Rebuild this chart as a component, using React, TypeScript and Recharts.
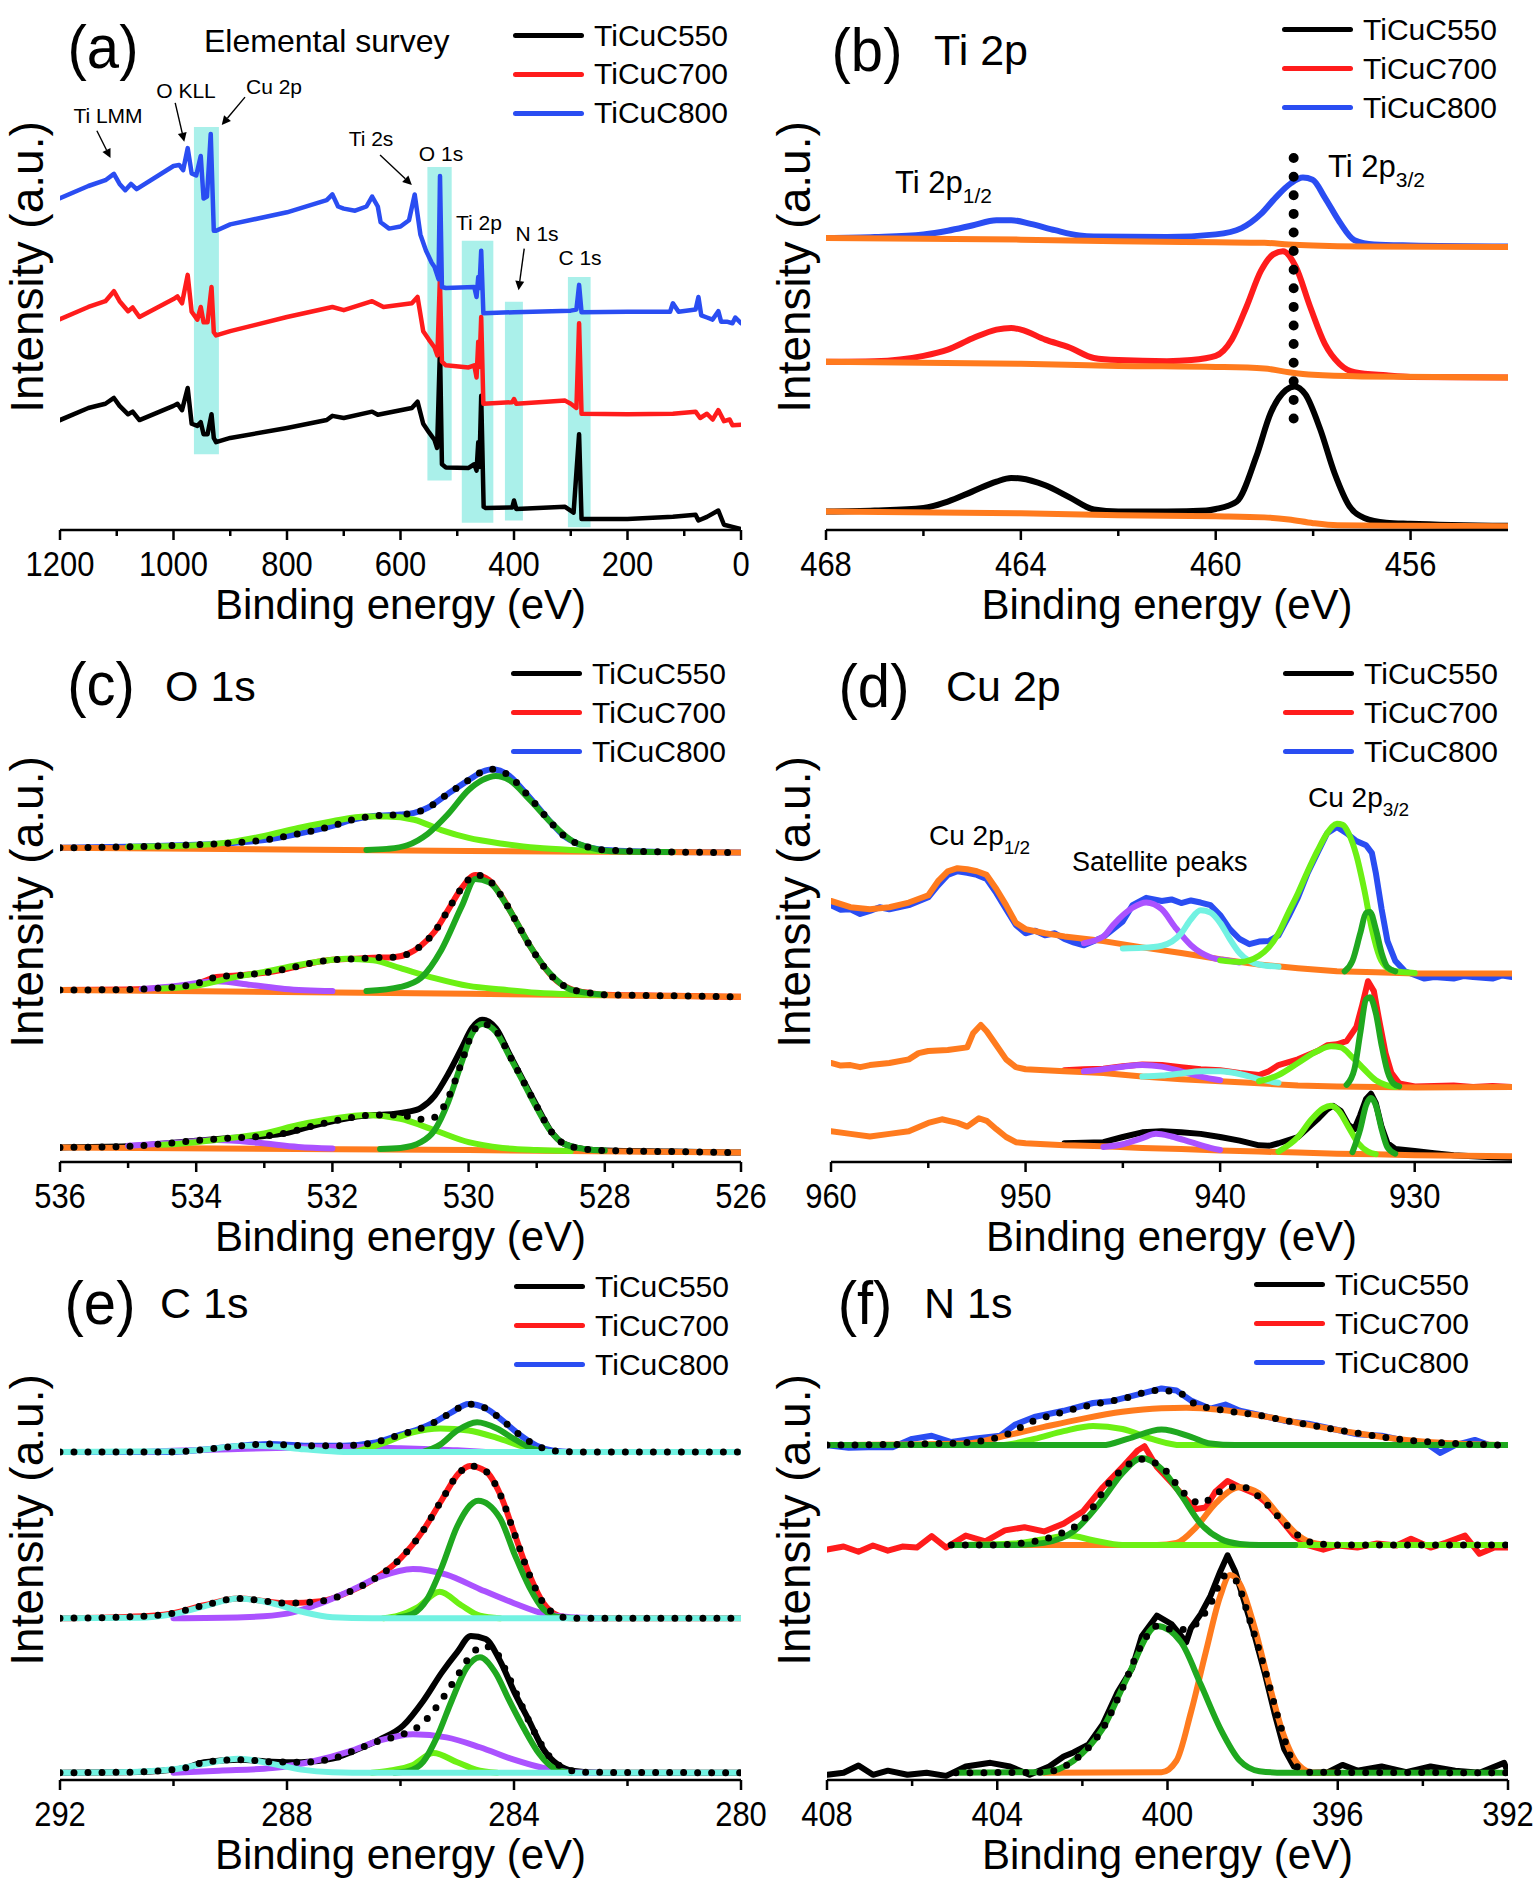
import React from 'react';
import { LineChart, Line, XAxis, YAxis, ReferenceArea, ReferenceLine, Legend } from 'recharts';

type Pt = [number, number];
type Box = { L: number; T: number; R: number; B: number };

// sample names + colours shared by all six legends
const samples = ['TiCuC550', 'TiCuC700', 'TiCuC800'];
const sampleColors = ['#000000', '#ff1c1c', '#2a4df2'];

const ORANGE = '#ff7b1e';
const DKGREEN = '#1fa81f';
const LTGREEN = '#6cf014';
const PURPLE = '#ab52ff';
const CYAN = '#72f2e2';
const BOXFILL = '#aaf0ea';
const FONT = '"Liberation Sans", Arial, Helvetica, sans-serif';

// ---------- (a) survey ----------
const surveyTicks = [1200, 1100, 1000, 900, 800, 700, 600, 500, 400, 300, 200, 100, 0];
const surveyMajor = [1200, 1000, 800, 600, 400, 200, 0];
const a550: Pt[] = [[1200,20.9],[1150,23.2],[1120,24],[1105,25.1],[1095,23.6],[1080,22],[1072,22.5],[1060,20.9],[1000,23.6],[993,24],[985,22.8],[975,27],[968,20.2],[958,19.8],[952,20.5],[947,18.2],[940,18.2],[933,22],[929,17.5],[925,16.7],[900,17.5],[800,19.4],[730,20.9],[720,21.7],[700,21.3],[650,22.5],[640,21.9],[580,23.2],[570,24.4],[560,20.2],[550,18.6],[540,17.1],[535.5,15.6],[530.4,34.7],[527,12.5],[520,11.9],[480,11.8],[470,12.5],[466,11.3],[463,16.7],[461,12],[457.8,25.5],[453.5,4.4],[450,4.2],[403,4.3],[400,5.6],[396,4],[310,4.4],[295,3.3],[285.3,18.2],[281,2.1],[200,2.1],[120,2.5],[80,2.9],[75,1.8],[60,2.5],[40,3.7],[30,1],[15,0.6],[0,0.2]];
const a700: Pt[] = [[1200,40.1],[1150,42.4],[1120,43.5],[1105,45.4],[1095,43.5],[1080,41.6],[1072,42.3],[1060,40.5],[1000,43.9],[993,44.4],[985,43.1],[975,48.5],[968,41.5],[958,40],[952,42.4],[947,39.5],[940,39.5],[933,46.2],[929,37.6],[925,37],[900,37.8],[800,40.5],[720,42.4],[700,41.8],[650,43.5],[630,42.4],[580,43.1],[570,44.3],[560,37.8],[550,36.2],[540,34.7],[535,33.2],[530.6,47.7],[527,32],[520,31.3],[480,30.9],[470,31.3],[466,29],[463,35.8],[461,31],[457.8,40.5],[454,24],[403,24.3],[400,24.9],[396,24],[310,24.6],[300,24],[290,23.2],[285.3,39.3],[281,22.1],[200,22],[120,22.1],[80,22.5],[72,21.3],[60,22.1],[50,21],[40,22.8],[30,20.7],[20,21],[15,19.9],[0,20]];
const a800: Pt[] = [[1200,63.1],[1150,65.4],[1120,66.5],[1105,67.7],[1095,65.8],[1085,64.6],[1075,65.8],[1065,64.8],[1000,69.2],[990,69.4],[983,68.4],[975,72.6],[968,67.8],[960,67.4],[952,71.1],[947,63],[941,63.4],[934.4,75.3],[929,56.9],[925,56.9],[900,58.1],[800,60.4],[730,62.7],[720,63.8],[710,61.5],[700,61.1],[680,60.7],[660,61.5],[650,63.4],[640,61.5],[635,58.5],[620,57.3],[600,57.7],[585,58.9],[575,63.8],[565,56.2],[555,53.1],[545,50.8],[540,50],[533,47.7],[530.4,67.3],[527,46.2],[520,46],[470,46.2],[466,44.3],[463,48.1],[461,46],[457.8,53.1],[454,41.2],[400,41.4],[300,41.7],[290,41.9],[285.3,46.6],[281,41.4],[200,41.5],[125,41.5],[120,43.1],[110,41.5],[80,41.9],[75,44.3],[70,40.8],[60,40.4],[50,40],[40,41.6],[35,39.6],[25,39.6],[15,39.3],[10,40.4],[0,39.3]];
// highlighted regions: [x1, x2, y1, y2]
const surveyBands: [number, number, number, number][] = [[964, 920, 14.4, 76.6], [552.6, 509.8, 9.4, 69], [492, 436.4, 1.4, 55], [416, 384.3, 1.8, 43.4], [305, 265, 0.5, 48.1]];
// arrows: from -> to
const surveyArrows: [number, number, number, number][] = [[1135, 75.9, 1111, 70.7], [997, 81.2, 981, 73.8], [874, 82.3, 915, 77], [636, 71.3, 580, 65.6], [382, 53.5, 392, 45.6]];

// ---------- (b) Ti 2p ----------
const tiTicks = [468, 466, 464, 462, 460, 458, 456];
const tiMajor = [468, 464, 460, 456];
const b550: Pt[] = [[468,3.5],[467,3.7],[466,4.2],[465.5,5.4],[465,7.3],[464.5,9.2],[464.2,9.9],[464,9.8],[463.5,8.5],[463,6.2],[462.5,3.9],[462,3.5],[461,3.5],[460.2,3.7],[460,4],[459.57,5.4],[459.17,13.9],[458.87,22.3],[458.56,26.6],[458.38,27.3],[458.16,25.8],[457.86,19.3],[457.56,10.8],[457.26,4.6],[456.95,2.3],[456.5,1.4],[456,1.2],[454,0.8]];
const b550bg: Pt[] = [[468,3.5],[464,3.2],[462,2.8],[460,2.6],[459,2.4],[458.5,2],[458,1.3],[457.5,0.9],[456,0.8],[454,0.7]];
const b700: Pt[] = [[468,32],[467,32.1],[466,33.1],[465.5,34.3],[465,36.4],[464.5,38.1],[464.2,38.4],[464,38.1],[463.5,36.2],[463,34.7],[462.5,32.7],[462,32.3],[461,32.1],[460.5,32.3],[460,33.1],[459.67,36.2],[459.37,42.4],[459.07,49.3],[458.82,52.4],[458.62,53],[458.36,50.1],[458.06,42.4],[457.76,35.4],[457.46,31.6],[457.15,30],[456.5,29.4],[456,29.1],[454,29]];
const b700bg: Pt[] = [[468,32],[464,31.6],[462,31.2],[460,31],[459,30.7],[458.5,30],[458,29.5],[457,29.2],[454,29]];
const b800: Pt[] = [[468,55.5],[467,55.7],[466,56.2],[465.5,56.9],[465,57.9],[464.5,58.9],[464.2,58.9],[463.8,58.2],[463.3,57],[462.8,56],[462.5,55.8],[461,55.7],[460,56.2],[459.47,57.4],[459.07,60.1],[458.77,63.2],[458.46,65.9],[458.21,67],[458.01,66.6],[457.76,63.2],[457.46,58.6],[457.15,55.1],[456.75,54.3],[456,54.1],[454,53.9]];
const b800bg: Pt[] = [[468,55.5],[464,55.2],[462,54.9],[460,54.7],[459,54.6],[458.5,54.3],[458,54.1],[457,53.9],[454,53.8]];

// ---------- (c) O 1s ----------
const oTicks = [536, 535, 534, 533, 532, 531, 530, 529, 528, 527, 526];
const oMajor = [536, 534, 532, 530, 528, 526];
const c800: Pt[] = [[536,60.3],[535,60.5],[534,60.9],[533.5,61.2],[533,61.8],[532.5,63],[532,64.5],[531.7,65.7],[531.4,66.4],[531,66.7],[530.8,67],[530.6,68],[530.3,70.7],[530,73.3],[529.8,74.9],[529.65,75.4],[529.4,74.1],[529.2,71.4],[529,68.4],[528.8,65.3],[528.6,62.6],[528.4,61.1],[528.2,60.3],[528,59.9],[527,59.5],[526,59.4]];
const c800bg: Pt[] = [[536,60.3],[530,59.7],[526,59.4]];
const c800dg: Pt[] = [[531.5,59.9],[531.2,60.1],[530.9,60.8],[530.6,63],[530.3,66.8],[530,71.4],[529.8,73.3],[529.6,74.1],[529.4,73.3],[529.1,69.5],[528.8,65.3],[528.5,61.8],[528.2,60.3],[527.8,59.6],[527,59.5]];
const c800lg: Pt[] = [[535,60.5],[534,60.8],[533.5,61.4],[533,62.6],[532.5,64.1],[532,65.4],[531.5,66.3],[531.2,66.3],[530.8,65.7],[530.4,63.7],[530,62.2],[529.5,61.1],[529,60.3],[528.5,59.9],[528,59.7]];
const c700: Pt[] = [[536,33],[535,33.1],[534.5,33.4],[534,34.2],[533.7,35.5],[533.3,35.9],[533,36.3],[532.7,37],[532.3,38.2],[532,38.8],[531.7,39],[531.4,39.2],[531.1,39.3],[530.9,39.9],[530.7,41.5],[530.5,44.2],[530.3,48.4],[530.1,52.6],[529.9,55.1],[529.7,54.1],[529.5,50.7],[529.3,46.1],[529.1,41.5],[528.9,37.6],[528.7,34.7],[528.5,33.2],[528.2,32.4],[528,32.1],[527,31.9],[526,31.7]];
const c700bg: Pt[] = [[536,33],[530,32.3],[526,31.7]];
const c700dg: Pt[] = [[531.5,32.8],[531,33.6],[530.7,35.3],[530.4,40.7],[530.1,49.1],[529.9,54.3],[529.7,53.7],[529.4,48.4],[529.1,41.5],[528.8,36.1],[528.5,33.1],[528,32.1]];
const c700lg: Pt[] = [[534.5,33.3],[534,33.8],[533.5,35.3],[533,36.5],[532.5,37.8],[532,38.8],[531.8,39],[531.4,38.7],[531,37.2],[530.5,35.3],[530,33.8],[529.5,33.1],[529,32.5],[528.5,32.2],[528,32.1]];
const c700pu: Pt[] = [[534.8,33.2],[534.3,33.8],[533.7,34.7],[533.2,34],[532.7,33.2],[532,32.8]];
const c550: Pt[] = [[536,2.8],[535,3],[534.5,3.5],[534,4.1],[533.5,4.6],[533,5],[532.7,5.5],[532.3,6.9],[532,7.8],[531.7,8.6],[531.4,9],[531.1,9.2],[530.9,9.6],[530.7,10.4],[530.5,12.7],[530.3,16.9],[530.1,21.9],[529.95,25.7],[529.8,27.3],[529.6,25.7],[529.4,20.7],[529.2,15.7],[529,10.8],[528.8,6.1],[528.6,3.5],[528.3,2.5],[528,2.2],[527,2],[526,1.8]];
const c550fit: Pt[] = [[536,2.8],[535,3],[534.5,3.5],[534,4.1],[533.5,4.6],[533,5],[532.7,5.5],[532.3,6.9],[532,7.8],[531.7,8.6],[531.4,9],[531.1,9],[530.9,8.8],[530.7,8.2],[530.5,8.6],[530.3,12.3],[530.1,19.2],[529.95,24.6],[529.8,26.5],[529.6,25.2],[529.4,20.5],[529.2,15.6],[529,10.7],[528.8,6.1],[528.6,3.5],[528.3,2.5],[528,2.2],[527,2],[526,1.8]];
const c550bg: Pt[] = [[536,2.8],[530,2.3],[526,1.8]];
const c550dg: Pt[] = [[531.3,2.5],[531,2.7],[530.7,3.8],[530.5,6.1],[530.3,11.5],[530.1,19.2],[529.95,24.6],[529.8,26.5],[529.6,25],[529.4,20.3],[529.2,15.4],[529,10.4],[528.8,6],[528.6,3.5],[528.3,2.5],[528,2.2]];
const c550lg: Pt[] = [[534.5,3.3],[534,3.8],[533.5,4.6],[533,5.5],[532.5,7.1],[532,8.3],[531.5,9],[531,8.3],[530.5,6.1],[530,3.8],[529.5,2.7],[529,2.3],[528.5,2.1]];
const c550pu: Pt[] = [[535,3.1],[534.3,3.7],[533.7,4.2],[533.1,3.7],[532.5,2.9],[532,2.6]];

// ---------- (d) Cu 2p ----------
const cuTicks = [960, 955, 950, 945, 940, 935, 930];
const cuMajor = [960, 950, 940, 930];
const d800: Pt[] = [[960,49.3],[959.5,48.4],[959,48.5],[958.5,47.6],[958,48.2],[957.5,48.9],[957,48.5],[956,49.3],[955,50.8],[954.5,53.1],[954,55.1],[953.5,55.8],[953,55.5],[952.5,55.1],[952,54.3],[951.5,51.6],[951,48.5],[950.5,45.5],[950,43.9],[949.5,44.4],[949,43.5],[948.5,43.9],[948,42.8],[947.5,42.1],[947,41.6],[946,43.2],[945,46.2],[944.5,49.3],[943.8,50.7],[943,50.1],[942.5,50.4],[942,49.7],[941.5,50.2],[941,49.8],[940.5,49.3],[940,47.4],[939.5,44.7],[939,42.8],[938.5,41.8],[938,42.3],[937.5,42.4],[937,43.5],[936.5,47],[936,50.8],[935.5,55.5],[935,59.3],[934.5,63.1],[934,64.3],[933.5,63.1],[933,61.6],[932.5,60.8],[932.2,59.3],[932,55.5],[931.7,48.5],[931.4,42.4],[931,38.6],[930.5,36.6],[930,35.9],[929.5,35.2],[929,35.5],[928,35.2],[927.5,35.7],[927,35.5],[926,35.2],[925.5,35.8],[925,35.5]];
const d800bg: Pt[] = [[960,50.1],[959,48.9],[958,48.5],[957,48.9],[956,49.8],[955,51.2],[954.5,53.9],[954,55.8],[953.5,56.4],[953,56.2],[952.5,55.8],[952,55.1],[951.5,52.4],[951,49.3],[950.5,45.9],[950,44.7],[949,43.9],[948,43.3],[946,42.4],[944,41.2],[942,40.1],[940,38.9],[938,37.9],[936,37.2],[934,36.6],[932,36.4],[930,36.2],[925,36.2]];
const d800pu: Pt[] = [[947,42],[946,43.3],[945.5,45.5],[944.5,48.8],[943.8,49.8],[943,48.5],[942.3,45],[941.5,41.6],[940.5,39.3],[939.5,38.6],[939,38.3]];
const d800cy: Pt[] = [[945,41],[944,41.1],[943,41.5],[942,43.9],[941.5,46.6],[941,48.3],[940.5,47.9],[940,45.9],[939.5,42.8],[939,40.1],[938,37.9],[937,37.5]];
const d800lg: Pt[] = [[940,38.7],[939,38.4],[938,39.6],[937.5,41.2],[937,43.9],[936.5,47.8],[936,51.6],[935.5,55.8],[935,59.7],[934.5,63.1],[934,64.9],[933.7,64.7],[933.4,63.1],[933,58.9],[932.6,52.4],[932.2,44.7],[931.8,39.3],[931.4,37.2],[931,36.6],[930,36.3]];
const d800dg: Pt[] = [[933.6,36.6],[933.2,38.6],[932.8,43.9],[932.5,47.8],[932.3,48],[932,44.7],[931.7,40.1],[931.4,37.4],[931,36.6]];
const d700: Pt[] = [[948,17.6],[947,17.8],[946,17.9],[945,18.4],[944,18.7],[943,18.6],[942,18.2],[941,17.8],[940,17.6],[939,17.1],[938,16.7],[937.5,17.4],[937,18.6],[936,19.7],[935,21.3],[934.5,22.4],[934,22.6],[933.5,23.2],[933,25.9],[932.7,30.1],[932.4,34.7],[932.1,32.8],[931.8,26.7],[931.5,20.9],[931.2,17.1],[930.8,15.1],[930,14.5],[929,14.6],[928,14.7],[927,14.4],[926,14.6],[925,14.4]];
const d700bg: Pt[] = [[960,19],[959.5,18.5],[959,18.6],[958.5,18.2],[958,18.6],[957,19],[956,19.7],[955.5,20.9],[955,21.3],[954,21.5],[953,22],[952.7,24.7],[952.3,26.3],[952,25.1],[951.5,22.4],[951,19.7],[950.5,18.2],[950,17.8],[949,17.6],[948,17.4],[946,17.1],[944,16.4],[942,15.9],[940,15.5],[938,15.1],[936,14.7],[934,14.5],[932,14.4],[930,14.3],[925,14.4]];
const d700pu: Pt[] = [[947,17.4],[946,17.8],[945,18.3],[944,18.6],[943,18.3],[942,17.4],[941,16.4],[940,15.7]];
const d700cy: Pt[] = [[944,16.4],[943,16.6],[942,17],[941,17.4],[940,17.4],[939,16.9],[938,15.9],[937,15.2]];
const d700lg: Pt[] = [[938,15.5],[937,16.7],[936,19],[935,21.3],[934.3,22.2],[933.8,22],[933.2,20.1],[932.6,17.8],[932,15.7],[931.5,14.8],[931,14.4]];
const d700dg: Pt[] = [[933.5,14.8],[933.1,17.8],[932.8,24.7],[932.5,31.2],[932.3,31.6],[932,28.6],[931.7,22.4],[931.4,17.4],[931.1,15.1],[930.8,14.5]];
const d550: Pt[] = [[948,3.6],[947,3.7],[946,3.8],[945,4.8],[944,5.7],[943,5.9],[942,5.7],[941,5.4],[940,4.8],[939,4.1],[938,3.2],[937.5,3.1],[937,3.6],[936,4.8],[935,8.2],[934.5,10.1],[934.2,10.8],[933.8,9.8],[933.4,7.1],[933.1,6.3],[932.8,9],[932.5,12.1],[932.25,13.1],[932,11.3],[931.7,6.7],[931.4,3.6],[931,2.5],[930,2.1],[929,1.7],[928,1.3],[927,1.1],[926,0.9],[925,0.8]];
const d550bg: Pt[] = [[960,5.9],[959,5.4],[958,4.9],[957,5.4],[956,5.9],[955,7.5],[954.3,8.2],[953.5,7.5],[953,6.8],[952.4,8.4],[952,7.9],[951.5,6.3],[951,4.8],[950.5,3.8],[950,3.6],[948,3.2],[946,3],[944,2.7],[942,2.5],[940,2.2],[938,2],[936,1.8],[934,1.6],[932,1.5],[930,1.3],[925,1.1]];
const d550pu: Pt[] = [[946,2.9],[945,3.4],[944,4.6],[943.3,5.4],[942.5,4.9],[941.5,3.8],[940.5,2.7],[940,2.3]];
const d550lg: Pt[] = [[937,2],[936,4.8],[935.3,8.2],[934.7,10.3],[934.3,10.8],[933.9,9.8],[933.4,6.7],[932.9,3.6],[932.4,2],[932,1.5]];
const d550dg: Pt[] = [[933.2,1.9],[932.8,6.3],[932.5,10.9],[932.25,12.3],[932,10.9],[931.7,6.3],[931.4,2.8],[931,1.6]];

// ---------- (e) C 1s ----------
const cTicks = [292, 290, 288, 286, 284, 282, 280];
const cMajor = [292, 288, 284, 280];
const e800: Pt[] = [[292,63.1],[290,63.1],[289.5,63.5],[288.8,64.3],[288.3,64.6],[287.7,64.3],[287,64.3],[286.5,64.8],[286,66.4],[285.7,67.4],[285.4,68.8],[285.1,70.7],[284.8,72.3],[284.5,71.5],[284.2,69.1],[283.9,66.4],[283.6,64.3],[283.3,63.3],[283,63.1],[280,63.1]];
const e800dg: Pt[] = [[285.6,63.1],[285.3,64.5],[285,67.2],[284.65,68.8],[284.3,67.6],[284,65.6],[283.7,63.8],[283.4,63.1]];
const e800lg: Pt[] = [[286.8,63.1],[286.3,64.8],[285.8,66.8],[285.3,67.6],[284.8,67.2],[284.3,65.8],[283.8,64],[283.4,63.1]];
const e800pu: Pt[] = [[290.5,63.1],[290,63.3],[289,63.6],[288,63.9],[287,64.1],[286,63.8],[285,63.4],[284.5,63.1]];
const e800cy: Pt[] = [[292,63.1],[290,63.2],[289.3,63.7],[288.8,64.3],[288.3,64.2],[287.7,63.6],[287,63.1],[280,63.1]];
const e700: Pt[] = [[292,31.1],[290.74,31.4],[290.05,32],[289.46,33.6],[288.86,34.9],[288,34],[287.4,34.4],[286.8,36.7],[286.4,39.1],[286,42.6],[285.6,48],[285.27,53.9],[284.97,59],[284.78,60.4],[284.5,59.4],[284.25,55.1],[283.99,47.3],[283.73,39.5],[283.48,34],[283.22,31.6],[282.97,31.1],[280,31.1]];
const e700dg: Pt[] = [[286.04,31.3],[285.78,32],[285.53,34.8],[285.27,41],[285,48.8],[284.63,53.7],[284.25,50.4],[283.99,43.4],[283.73,37.1],[283.48,32.8],[283.2,31.3],[282.9,31.1]];
const e700lg: Pt[] = [[286.3,31.1],[286.04,31.6],[285.7,33.2],[285.31,36.2],[284.93,33.6],[284.6,31.6],[284.25,31.1]];
const e700pu: Pt[] = [[290,31.1],[288.77,31.3],[288,32],[287.5,33.6],[286.9,36.3],[286.36,39.1],[285.78,40.6],[285.19,39.5],[284.6,36.7],[284,34],[283.48,32],[283,31.3],[282.5,31.1]];
const e700cy: Pt[] = [[292,31.1],[290.6,31.2],[290.05,31.8],[289.46,33.4],[288.86,34.9],[288.26,34],[287.75,32.4],[287.2,31.3],[286.5,31.1],[280,31.1]];
const e550: Pt[] = [[292,1.4],[290.8,1.5],[290.2,1.8],[289.8,2.3],[289.46,3.4],[288.86,3.9],[288.26,3.5],[287.75,3.4],[287.2,4.1],[286.8,5.7],[286.36,7.8],[285.95,10.5],[285.6,15.2],[285.27,20.7],[285,24.6],[284.76,27.7],[284.5,27.1],[284.25,23],[283.99,16.8],[283.73,11.3],[283.48,5.9],[283.22,2.9],[282.97,1.8],[282.5,1.4],[280,1.4]];
const e550fit: Pt[] = [[292,1.4],[290.8,1.5],[290.2,1.8],[289.8,2.3],[289.46,3.4],[288.86,3.9],[288.26,3.5],[287.75,3.4],[287.2,4.1],[286.8,5.7],[286.36,7.6],[286,8.6],[285.6,11],[285.27,15.5],[285,20],[284.76,24],[284.55,25.8],[284.35,25],[284.1,20],[283.85,14],[283.6,8.4],[283.35,4.2],[283.1,2.2],[282.8,1.5],[280,1.4]];
const e550dg: Pt[] = [[286.1,1.4],[285.87,1.7],[285.6,3.5],[285.36,8.2],[285.1,15.2],[284.84,21.5],[284.6,23.6],[284.33,20.7],[284.08,15.2],[283.82,9.8],[283.56,5.1],[283.3,2.3],[283,1.4]];
const e550lg: Pt[] = [[286.5,1.4],[286.2,1.8],[285.78,2.9],[285.42,5.2],[285,3.4],[284.67,2],[284.3,1.4]];
const e550pu: Pt[] = [[290,1.4],[289.2,1.8],[288.26,2.3],[287.5,3.7],[286.9,5.5],[286.36,7.6],[285.78,8.8],[285.19,8.2],[284.6,6.3],[284,3.9],[283.48,2.3],[283,1.5],[282.5,1.4]];
const e550cy: Pt[] = [[292,1.4],[290.6,1.6],[290.05,2],[289.46,3.1],[288.86,4.1],[288.26,3.1],[287.75,2],[287.2,1.5],[286.5,1.4],[280,1.4]];

// ---------- (f) N 1s ----------
const nTicks = [408, 406, 404, 402, 400, 398, 396, 394, 392];
const nMajor = [408, 404, 400, 396, 392];
const f800: Pt[] = [[408,64.4],[407.49,63.9],[407.03,64],[406.46,64],[406,65.6],[405.54,66.2],[405.08,65],[404.51,65.7],[403.93,66.2],[403.59,68.3],[403.13,69.8],[402.44,71],[401.75,72.5],[401.29,72.9],[400.71,74.1],[400.14,75.3],[399.79,74.9],[399.45,73],[398.99,71.4],[398.64,72.2],[398.3,71],[397.84,70.2],[397.26,69.1],[396.69,68.5],[396.11,67.5],[395.54,66.5],[394.97,66.2],[394.39,65.2],[393.93,64.8],[393.59,62.9],[393.24,64.4],[392.78,65.4],[392.44,64.4],[392,64.4]];
const f800fit: Pt[] = [[408,64.4],[404.97,64.8],[403.93,66],[403.13,69.1],[402.44,70.8],[401.75,72.2],[401.06,73.3],[400.25,74.9],[399.79,74.7],[399.33,72.2],[398.76,71.2],[397.84,70.1],[396.69,68.3],[395.54,66.7],[394.39,65.4],[393.24,64.7],[392,64.4]];
const f800or: Pt[] = [[408,64.4],[404.74,64.7],[403.82,66.2],[402.9,67.9],[401.98,69.5],[401.06,70.8],[400.14,71.5],[399.56,71.6],[398.76,71.2],[397.84,70.1],[396.69,68.3],[395.54,66.7],[394.39,65.4],[393.24,64.7],[392,64.4]];
const f800lg: Pt[] = [[408,64.4],[403.93,64.4],[403.13,65.6],[402.44,67.1],[401.75,68.1],[401.06,67.5],[400.37,65.6],[399.68,64.4],[392,64.4]];
const f800dg: Pt[] = [[408,64.4],[401.52,64.4],[400.94,65.6],[400.14,67.4],[399.45,66],[398.99,64.7],[398.41,64.4],[392,64.4]];
const f700: Pt[] = [[408,44.3],[407.61,44.9],[407.26,43.9],[406.92,45.1],[406.57,44.1],[406.23,44.9],[405.89,44.7],[405.54,46.9],[405.2,44.7],[404.74,47],[404.28,45.9],[403.82,48],[403.36,48.6],[402.9,47.8],[402.44,49.3],[401.98,51.7],[401.52,56.3],[401.06,60.2],[400.71,63.3],[400.54,64.2],[400.25,60.2],[399.91,57.2],[399.56,54],[399.33,52.1],[399.1,52.4],[398.87,55.5],[398.59,57.5],[398.3,56.3],[397.95,55.1],[397.72,53.6],[397.38,50.5],[397.03,47],[396.69,45.1],[396.34,44.3],[396,45.1],[395.54,44.7],[395.08,45.5],[394.62,45.1],[394.28,46.4],[393.82,44.7],[393.47,45.6],[393.01,47],[392.67,43.5],[392.32,44.7],[392,44.7]];
const f700fit: Pt[] = [[405.08,45.2],[404.16,45.2],[403.36,45.6],[402.67,46.9],[401.98,50],[401.29,57.9],[400.6,61.7],[400.14,60.2],[399.56,54.8],[399.22,53.2],[398.76,55.5],[398.3,56.5],[397.84,54.4],[397.38,50.5],[396.92,47],[396.57,45.6],[396,45.2],[392,45.2]];
const f700dg: Pt[] = [[405.08,45.2],[403.5,45.2],[402.9,45.6],[402.21,47.8],[401.52,54],[401.06,59],[400.6,61.9],[400.14,59.8],[399.68,54.8],[399.22,49.3],[398.76,46.4],[398.3,45.4],[397.84,45.2],[397,45.2]];
const f700or: Pt[] = [[403.5,45.2],[400.25,45.2],[399.79,45.6],[399.33,48.6],[398.87,53.2],[398.3,56.3],[397.84,55.1],[397.38,50.9],[396.92,47],[396.57,45.6],[396.11,45.2]];
const f700lg: Pt[] = [[405.08,45.2],[403.59,45.5],[402.9,46.3],[402.32,47],[401.75,46.1],[401.06,45.2],[392,45.2]];
const f550: Pt[] = [[408,1],[407.61,1.4],[407.26,2.8],[406.92,1],[406.57,1.8],[406.11,1],[405.66,1.4],[405.2,0.8],[404.74,2.6],[404.16,3.3],[403.7,2.6],[403.24,1],[402.78,2.6],[402.44,4.5],[402.21,5.3],[401.86,6.8],[401.52,10.7],[401.17,16.9],[400.83,21.5],[400.6,27.7],[400.25,31.6],[399.91,30],[399.56,26.5],[399.45,29.2],[399.22,31.9],[398.99,35.4],[398.76,40.1],[398.59,43.2],[398.41,40.1],[398.18,33.9],[397.95,27.7],[397.72,20.7],[397.49,13],[397.26,6],[397.03,2.6],[396.69,1.4],[396.23,1.5],[395.89,2.9],[395.54,1.8],[394.97,2.6],[394.39,1.5],[393.82,2.6],[393.24,1.8],[392.67,1.4],[392.09,3.3],[392,1.4]];
const f550fit: Pt[] = [[404.97,1.4],[402.9,1.5],[402.21,3.7],[401.52,9.9],[401.06,17.6],[400.6,26.1],[400.25,29.6],[399.79,28.8],[399.33,30],[398.99,33.9],[398.64,39.3],[398.41,38.5],[398.07,30.8],[397.72,21.5],[397.38,11.4],[397.03,3.3],[396.69,1.5],[392,1.4]];
const f550dg: Pt[] = [[404.97,1.4],[402.9,1.5],[402.21,3.7],[401.52,9.9],[400.94,19.8],[400.25,29.6],[399.68,26.5],[399.22,18.4],[398.76,9.9],[398.3,3.7],[397.84,1.7],[397.26,1.4],[392,1.4]];
const f550or: Pt[] = [[402.9,1.4],[400.14,1.5],[399.79,3.7],[399.45,13],[399.1,24.6],[398.76,35.4],[398.53,39.4],[398.3,37.7],[397.95,29.2],[397.61,18.4],[397.26,8.4],[396.92,2.9],[396.57,1.4],[396,1.4]];

// ---------- layout ----------
const PAD = 4;
const PADX = 44;
const AXIS_H = 58;
const boxA: Box = { L: 60, T: 4, R: 741, B: 530 };
const boxB: Box = { L: 826, T: 4, R: 1508, B: 530 };
const boxC: Box = { L: 60, T: 641, R: 741, B: 1162 };
const boxD: Box = { L: 831, T: 641, R: 1512, B: 1162 };
const boxE: Box = { L: 60, T: 1260, R: 741, B: 1780 };
const boxF: Box = { L: 827, T: 1260, R: 1508, B: 1780 };

const rows = (pts: Pt[]) => pts.map(([x, y]) => ({ x, y }));

const XTick = (props: any) => {
  const { x, y, payload, major } = props;
  const isMajor = major.includes(payload.value);
  return (
    <g>
      <line x1={x} x2={x} y1={y} y2={y + (isMajor ? 10 : 6)} stroke="#000" strokeWidth={2.5} />
      {isMajor && (
        <text x={0} y={0} transform={`translate(${x},${y + 46}) scale(0.86,1)`} textAnchor="middle" fontSize={36} fontFamily={FONT} fill="#000">
          {payload.value}
        </text>
      )}
    </g>
  );
};

function frame(domain: [number, number], ticks: number[], major: number[]) {
  const stroke = { stroke: '#000', strokeWidth: 2.5 };
  return [
    <XAxis key="xb" xAxisId={0} type="number" dataKey="x" domain={domain} reversed allowDataOverflow ticks={ticks} interval={0} height={AXIS_H} tickSize={0} tickMargin={0} tickLine={false} axisLine={stroke} tick={(p: any) => <XTick {...p} major={major} />} />,
    <XAxis key="xt" xAxisId="top" orientation="top" type="number" dataKey="x" domain={domain} reversed allowDataOverflow height={0} tick={false} tickLine={false} axisLine={stroke} />,
    <YAxis key="yl" yAxisId={0} type="number" domain={[0, 100]} width={0} tick={false} tickLine={false} axisLine={stroke} allowDataOverflow />,
    <YAxis key="yr" yAxisId="r" orientation="right" type="number" domain={[0, 100]} width={0} tick={false} tickLine={false} axisLine={stroke} />,
  ];
}

type S = { id: string; pts: Pt[]; color: string; w?: number; dotted?: boolean; curve?: 'linear' | 'monotone' };

function lines(list: S[]) {
  return list.map((s) => (
    <Line
      key={s.id}
      data={rows(s.pts)}
      dataKey="y"
      type={s.curve ?? 'monotone'}
      stroke={s.dotted ? '#000' : s.color}
      strokeWidth={s.dotted ? 7 : s.w ?? 6}
      strokeDasharray={s.dotted ? '0 14' : undefined}
      strokeLinecap="round"
      strokeLinejoin="round"
      dot={false}
      activeDot={false}
      legendType="none"
      isAnimationActive={false}
    />
  ));
}

const SampleLegend = () => (
  <div style={{ fontFamily: FONT, fontSize: 30, color: '#000' }}>
    {samples.map((s, i) => (
      <div key={s} style={{ display: 'flex', alignItems: 'center', height: 38.8 }}>
        <span style={{ display: 'inline-block', width: 71, height: 5, borderRadius: 3, background: sampleColors[i], marginRight: 10 }} />
        <span style={{ lineHeight: 1 }}>{s}</span>
      </div>
    ))}
  </div>
);

const Arrow = (p: any) => {
  const { x1, y1, x2, y2 } = p;
  if ([x1, y1, x2, y2].some((v) => typeof v !== 'number')) return <g />;
  const a = Math.atan2(y2 - y1, x2 - x1);
  const h = 9, w = 4.5;
  const bx = x2 - h * Math.cos(a), by = y2 - h * Math.sin(a);
  const pts = `${x2},${y2} ${bx + w * Math.sin(a)},${by - w * Math.cos(a)} ${bx - w * Math.sin(a)},${by + w * Math.cos(a)}`;
  return (
    <g>
      <line x1={x1} y1={y1} x2={bx} y2={by} stroke="#000" strokeWidth={1.4} />
      <polygon points={pts} fill="#000" />
    </g>
  );
};

const Panel = ({ box, legendAt, children }: { box: Box; legendAt: [number, number]; children: any }) => {
  const w = box.R - box.L + 2 * PADX;
  const h = box.B - box.T + PAD + AXIS_H;
  const ox = box.L - PADX, oy = box.T - PAD;
  return (
    <div style={{ position: 'absolute', left: ox, top: oy, width: w, height: h }}>
      <LineChart width={w} height={h} margin={{ top: PAD, right: PADX, bottom: 0, left: PADX }}>
        {children}
        <Legend
          layout="vertical"
          align="center"
          verticalAlign="middle"
          content={() => <SampleLegend />}
          wrapperStyle={{ left: legendAt[0] - ox, top: legendAt[1] - 19.4 - oy, width: 'auto', right: 'auto', bottom: 'auto' }}
        />
      </LineChart>
    </div>
  );
};

const Txt = ({ x, y, size, children, center, sx = 1, sy = 1 }: any) => (
  <div
    style={{
      position: 'absolute',
      left: x,
      top: y,
      fontSize: size,
      lineHeight: 1,
      whiteSpace: 'nowrap',
      transformOrigin: center ? '50% 50%' : '0 50%',
      transform: `translate(${center ? '-50%' : '0'}, -50%) scale(${sx}, ${sy})`,
    }}
  >
    {children}
  </div>
);

const Sub = ({ main, sub, size, subSize }: any) => (
  <span>
    {main}
    <span style={{ fontSize: subSize, position: 'relative', top: size * 0.32 }}>{sub}</span>
  </span>
);

const XTitle = ({ box }: { box: Box }) => (
  <Txt x={(box.L + box.R) / 2} y={box.B + 75} size={42} center>Binding energy (eV)</Txt>
);
const YTitle = ({ box, cx }: { box: Box; cx: number }) => (
  <div
    style={{
      position: 'absolute',
      left: cx,
      top: (box.T + box.B) / 2,
      fontSize: 46,
      lineHeight: 1,
      whiteSpace: 'nowrap',
      transform: 'translate(-50%, -50%) rotate(-90deg)',
    }}
  >
    Intensity (a.u.)
  </div>
);

export default function App() {
  const bandEls = surveyBands.map(([x1, x2, y1, y2], i) => (
    <ReferenceArea key={`band${i}`} x1={x1} x2={x2} y1={y1} y2={y2} fill={BOXFILL} fillOpacity={1} stroke="none" zIndex={-10} ifOverflow="visible" />
  ));
  const arrowEls = surveyArrows.map(([xa, ya, xb, yb], i) => (
    <ReferenceLine key={`arr${i}`} segment={[{ x: xa, y: ya }, { x: xb, y: yb }]} stroke="#000" ifOverflow="visible" shape={(p: any) => <Arrow {...p} />} />
  ));

  return (
    <div style={{ position: 'absolute', left: 0, top: 0, width: 1536, height: 1883, background: '#fff', fontFamily: FONT, color: '#000', overflow: 'hidden' }}>
      {/* (a) */}
      <Panel box={boxA} legendAt={[513, 35.7]}>
        {bandEls}
        {lines([
          { id: 'a550', pts: a550, color: sampleColors[0], w: 4.5, curve: 'linear' },
          { id: 'a700', pts: a700, color: sampleColors[1], w: 4.5, curve: 'linear' },
          { id: 'a800', pts: a800, color: sampleColors[2], w: 4.5, curve: 'linear' },
        ])}
        {arrowEls}
        {frame([0, 1200], surveyTicks, surveyMajor)}
      </Panel>

      {/* (b) */}
      <Panel box={boxB} legendAt={[1282, 30]}>
        {lines([
          { id: 'b550', pts: b550, color: sampleColors[0] },
          { id: 'b550bg', pts: b550bg, color: ORANGE },
          { id: 'b700', pts: b700, color: sampleColors[1] },
          { id: 'b700bg', pts: b700bg, color: ORANGE },
          { id: 'b800', pts: b800, color: sampleColors[2] },
          { id: 'b800bg', pts: b800bg, color: ORANGE },
        ])}
        <ReferenceLine segment={[{ x: 458.4, y: 21.2 }, { x: 458.4, y: 70.9 }]} stroke="#000" strokeWidth={10} strokeDasharray="0 18.6" strokeLinecap="round" ifOverflow="visible" />
        {frame([454, 468], tiTicks, tiMajor)}
      </Panel>

      {/* (c) */}
      <Panel box={boxC} legendAt={[511, 674]}>
        {lines([
          { id: 'c800', pts: c800, color: sampleColors[2] },
          { id: 'c800bg', pts: c800bg, color: ORANGE },
          { id: 'c800lg', pts: c800lg, color: LTGREEN },
          { id: 'c800dg', pts: c800dg, color: DKGREEN },
          { id: 'c800fit', pts: c800, color: '#000', dotted: true },
          { id: 'c700', pts: c700, color: sampleColors[1] },
          { id: 'c700bg', pts: c700bg, color: ORANGE },
          { id: 'c700pu', pts: c700pu, color: PURPLE },
          { id: 'c700lg', pts: c700lg, color: LTGREEN },
          { id: 'c700dg', pts: c700dg, color: DKGREEN },
          { id: 'c700fit', pts: c700, color: '#000', dotted: true },
          { id: 'c550', pts: c550, color: sampleColors[0] },
          { id: 'c550bg', pts: c550bg, color: ORANGE },
          { id: 'c550pu', pts: c550pu, color: PURPLE },
          { id: 'c550lg', pts: c550lg, color: LTGREEN },
          { id: 'c550dg', pts: c550dg, color: DKGREEN },
          { id: 'c550fit', pts: c550fit, color: '#000', dotted: true },
        ])}
        {frame([526, 536], oTicks, oMajor)}
      </Panel>

      {/* (d) */}
      <Panel box={boxD} legendAt={[1283, 674]}>
        {lines([
          { id: 'd800', pts: d800, color: sampleColors[2], curve: 'linear' },
          { id: 'd800bg', pts: d800bg, color: ORANGE, curve: 'linear' },
          { id: 'd800pu', pts: d800pu, color: PURPLE },
          { id: 'd800cy', pts: d800cy, color: CYAN },
          { id: 'd800lg', pts: d800lg, color: LTGREEN },
          { id: 'd800dg', pts: d800dg, color: DKGREEN },
          { id: 'd700', pts: d700, color: sampleColors[1], curve: 'linear' },
          { id: 'd700bg', pts: d700bg, color: ORANGE, curve: 'linear' },
          { id: 'd700pu', pts: d700pu, color: PURPLE },
          { id: 'd700cy', pts: d700cy, color: CYAN },
          { id: 'd700lg', pts: d700lg, color: LTGREEN },
          { id: 'd700dg', pts: d700dg, color: DKGREEN },
          { id: 'd550', pts: d550, color: sampleColors[0], curve: 'linear' },
          { id: 'd550bg', pts: d550bg, color: ORANGE, curve: 'linear' },
          { id: 'd550pu', pts: d550pu, color: PURPLE },
          { id: 'd550lg', pts: d550lg, color: LTGREEN },
          { id: 'd550dg', pts: d550dg, color: DKGREEN },
        ])}
        {frame([925, 960], cuTicks, cuMajor)}
      </Panel>

      {/* (e) */}
      <Panel box={boxE} legendAt={[514, 1287]}>
        {lines([
          { id: 'e800', pts: e800, color: sampleColors[2] },
          { id: 'e800pu', pts: e800pu, color: PURPLE },
          { id: 'e800lg', pts: e800lg, color: LTGREEN },
          { id: 'e800dg', pts: e800dg, color: DKGREEN },
          { id: 'e800cy', pts: e800cy, color: CYAN },
          { id: 'e800fit', pts: e800, color: '#000', dotted: true },
          { id: 'e700', pts: e700, color: sampleColors[1] },
          { id: 'e700pu', pts: e700pu, color: PURPLE },
          { id: 'e700lg', pts: e700lg, color: LTGREEN },
          { id: 'e700dg', pts: e700dg, color: DKGREEN },
          { id: 'e700cy', pts: e700cy, color: CYAN },
          { id: 'e700fit', pts: e700, color: '#000', dotted: true },
          { id: 'e550', pts: e550, color: sampleColors[0] },
          { id: 'e550pu', pts: e550pu, color: PURPLE },
          { id: 'e550lg', pts: e550lg, color: LTGREEN },
          { id: 'e550dg', pts: e550dg, color: DKGREEN },
          { id: 'e550cy', pts: e550cy, color: CYAN },
          { id: 'e550fit', pts: e550fit, color: '#000', dotted: true },
        ])}
        {frame([280, 292], cTicks, cMajor)}
      </Panel>

      {/* (f) */}
      <Panel box={boxF} legendAt={[1254, 1285]}>
        {lines([
          { id: 'f800', pts: f800, color: sampleColors[2], curve: 'linear' },
          { id: 'f800or', pts: f800or, color: ORANGE },
          { id: 'f800lg', pts: f800lg, color: LTGREEN },
          { id: 'f800dg', pts: f800dg, color: DKGREEN },
          { id: 'f800fit', pts: f800fit, color: '#000', dotted: true },
          { id: 'f700', pts: f700, color: sampleColors[1], curve: 'linear' },
          { id: 'f700or', pts: f700or, color: ORANGE },
          { id: 'f700lg', pts: f700lg, color: LTGREEN },
          { id: 'f700dg', pts: f700dg, color: DKGREEN },
          { id: 'f700fit', pts: f700fit, color: '#000', dotted: true },
          { id: 'f550', pts: f550, color: sampleColors[0], curve: 'linear' },
          { id: 'f550or', pts: f550or, color: ORANGE },
          { id: 'f550dg', pts: f550dg, color: DKGREEN },
          { id: 'f550fit', pts: f550fit, color: '#000', dotted: true },
        ])}
        {frame([392, 408], nTicks, nMajor)}
      </Panel>

      {/* axis titles */}
      {[boxA, boxB, boxC, boxD, boxE, boxF].map((b, i) => (
        <XTitle key={`xt${i}`} box={b} />
      ))}
      {[boxA, boxC, boxE].map((b, i) => (
        <YTitle key={`yl${i}`} box={b} cx={27} />
      ))}
      {[boxB, boxD, boxF].map((b, i) => (
        <YTitle key={`yr${i}`} box={b} cx={794} />
      ))}

      {/* panel letters and headings */}
      <Txt x={103} y={47} size={58} center sy={1.06}>(a)</Txt>
      <Txt x={204} y={41} size={32}>Elemental survey</Txt>
      <Txt x={867} y={50} size={58} center sy={1.06}>(b)</Txt>
      <Txt x={934} y={50} size={43}>Ti 2p</Txt>
      <Txt x={101} y={684} size={58} center sy={1.06}>(c)</Txt>
      <Txt x={165} y={686} size={43}>O 1s</Txt>
      <Txt x={874} y={686} size={58} center sy={1.06}>(d)</Txt>
      <Txt x={946} y={686} size={43}>Cu 2p</Txt>
      <Txt x={100} y={1303} size={58} center sy={1.06}>(e)</Txt>
      <Txt x={160} y={1303} size={43}>C 1s</Txt>
      <Txt x={865} y={1303} size={58} center sy={1.06}>(f)</Txt>
      <Txt x={924} y={1303} size={43}>N 1s</Txt>

      {/* survey peak names */}
      <Txt x={108} y={115} size={21} center>Ti LMM</Txt>
      <Txt x={186} y={90} size={21} center>O KLL</Txt>
      <Txt x={274} y={86} size={21} center>Cu 2p</Txt>
      <Txt x={371} y={138} size={21} center>Ti 2s</Txt>
      <Txt x={441} y={153} size={21} center>O 1s</Txt>
      <Txt x={479} y={222} size={21} center>Ti 2p</Txt>
      <Txt x={537} y={233} size={21} center>N 1s</Txt>
      <Txt x={580} y={257} size={21} center>C 1s</Txt>

      {/* spin-orbit labels */}
      <Txt x={895} y={182} size={31}><Sub main="Ti 2p" sub="1/2" size={31} subSize={21} /></Txt>
      <Txt x={1328} y={166} size={31}><Sub main="Ti 2p" sub="3/2" size={31} subSize={21} /></Txt>
      <Txt x={929} y={836} size={28}><Sub main="Cu 2p" sub="1/2" size={28} subSize={19} /></Txt>
      <Txt x={1072} y={862} size={27}>Satellite peaks</Txt>
      <Txt x={1308} y={798} size={28}><Sub main="Cu 2p" sub="3/2" size={28} subSize={19} /></Txt>
    </div>
  );
}
